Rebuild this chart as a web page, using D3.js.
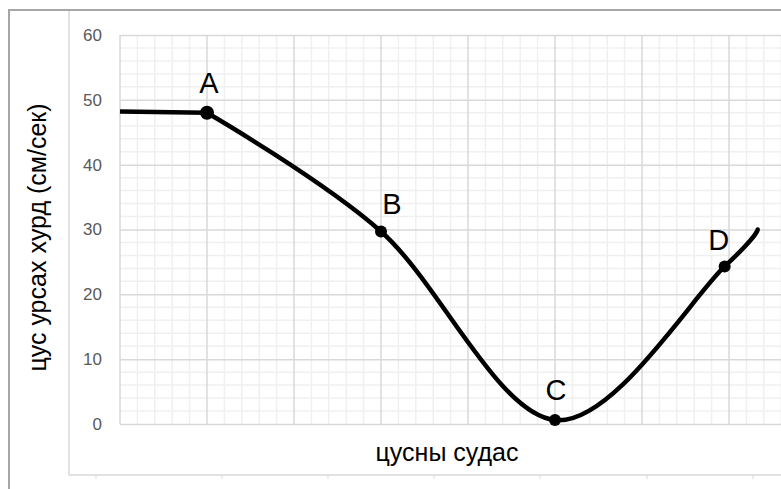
<!DOCTYPE html>
<html>
<head>
<meta charset="utf-8">
<script src="https://cdn.jsdelivr.net/npm/d3@7"></script>
<style>
  body { margin: 0; background: #fff; }
  svg { display: block; font-family: "Liberation Sans", Arial, sans-serif; }
</style>
</head>
<body>
<script>
// values (x has no labels: 1 unit = one major grid cell)
const yTicks = [0, 10, 20, 30, 40, 50, 60];
const flatX = [0, 1];
const flatY = [48.2, 48];
const curveX = [1, 3, 5, 6.95, 7.33];
const curveY = [48, 29.7, 0.6, 24.3, 30];
const pointNames = ['A', 'B', 'C', 'D'];
const yTitle = 'цус урсах хурд (см/сек)';
const xTitle = 'цусны судас';

const W = 781, H = 489;
const plot = { left: 120, top: 35, bottom: 424, right: 816 };
// label nudges relative to their marker
const labelOff = [[2, -20], [11, -17], [1, -20], [-6, -16]];

const x = d3.scaleLinear().domain([0, 8]).range([plot.left, plot.right]);
const y = d3.scaleLinear().domain([0, 60]).range([plot.bottom, plot.top]);

const svg = d3.select('body').append('svg')
    .attr('width', W)
    .attr('height', H);

// chart frame
svg.append('path')
    .attr('d', `M9,${H}V10H${W}`)
    .attr('fill', 'none')
    .attr('stroke', '#a6a6a6')
    .attr('stroke-width', 2);
svg.append('path')
    .attr('d', `M69,11V475H${W}`)
    .attr('fill', 'none')
    .attr('stroke', '#d9d9d9')
    .attr('stroke-width', 1.5);
svg.append('g').selectAll('line')
    .data([96, 222, 328, 434, 540, 647, 753])
    .join('line')
    .attr('x1', d => d).attr('x2', d => d)
    .attr('y1', 475).attr('y2', 479)
    .attr('stroke', '#d9d9d9');

// grid
const grid = svg.append('g');
grid.selectAll('.hmin')
    .data(d3.range(0, 61, 2).filter(v => v % 10))
    .join('line')
    .attr('x1', plot.left).attr('x2', W)
    .attr('y1', d => y(d)).attr('y2', d => y(d))
    .attr('stroke', '#f0f0f0').attr('stroke-width', 1.5);
grid.selectAll('.vmin')
    .data(d3.range(0, 40).map(i => i / 5).filter((v, i) => i % 5))
    .join('line')
    .attr('x1', d => x(d)).attr('x2', d => x(d))
    .attr('y1', plot.top).attr('y2', plot.bottom)
    .attr('stroke', '#f0f0f0').attr('stroke-width', 1.5);
grid.selectAll('.vmaj')
    .data(d3.range(0, 8))
    .join('line')
    .attr('x1', d => x(d)).attr('x2', d => x(d))
    .attr('y1', plot.top).attr('y2', plot.bottom)
    .attr('stroke', '#d9d9d9').attr('stroke-width', 1.5);

// y axis
const yAxis = svg.append('g')
    .attr('transform', `translate(${plot.left},0)`)
    .call(d3.axisLeft(y).tickValues(yTicks).tickSize(-(W - plot.left)).tickPadding(18));
yAxis.select('.domain').remove();
yAxis.selectAll('.tick line').attr('stroke', '#d9d9d9').attr('stroke-width', 1.5);
yAxis.selectAll('.tick text')
    .attr('fill', '#595959')
    .style('font-size', '17px')
    .style('font-family', '"Liberation Sans", Arial, sans-serif');

// lines
const line = d3.line().x(d => x(d[0])).y(d => y(d[1]));
svg.append('path')
    .attr('d', line(d3.zip(flatX, flatY)))
    .attr('fill', 'none')
    .attr('stroke', '#000')
    .attr('stroke-width', 4.5);
svg.append('path')
    .attr('d', line.curve(d3.curveCardinal.tension(0))(d3.zip(curveX, curveY)))
    .attr('fill', 'none')
    .attr('stroke', '#000')
    .attr('stroke-width', 4.5)
    .attr('stroke-linecap', 'round');

// markers + labels
const pts = pointNames.map((n, i) => ({ name: n, x: curveX[i], y: curveY[i], off: labelOff[i] }));
svg.append('g').selectAll('circle')
    .data(pts)
    .join('circle')
    .attr('cx', d => x(d.x))
    .attr('cy', d => y(d.y))
    .attr('r', (d, i) => i === 0 ? 7 : 6)
    .attr('fill', '#000');
svg.append('g').selectAll('text')
    .data(pts)
    .join('text')
    .attr('x', d => x(d.x) + d.off[0])
    .attr('y', d => y(d.y) + d.off[1])
    .attr('text-anchor', 'middle')
    .attr('fill', '#000')
    .style('font-size', '29px')
    .text(d => d.name);

// axis titles
svg.append('text')
    .attr('transform', `translate(46,${(plot.top + plot.bottom) / 2 + 8}) rotate(-90)`)
    .attr('text-anchor', 'middle')
    .attr('fill', '#000')
    .style('font-size', '25px')
    .text(yTitle);
svg.append('text')
    .attr('x', 447)
    .attr('y', 461)
    .attr('text-anchor', 'middle')
    .attr('fill', '#000')
    .style('font-size', '25px')
    .text(xTitle);
</script>
</body>
</html>
